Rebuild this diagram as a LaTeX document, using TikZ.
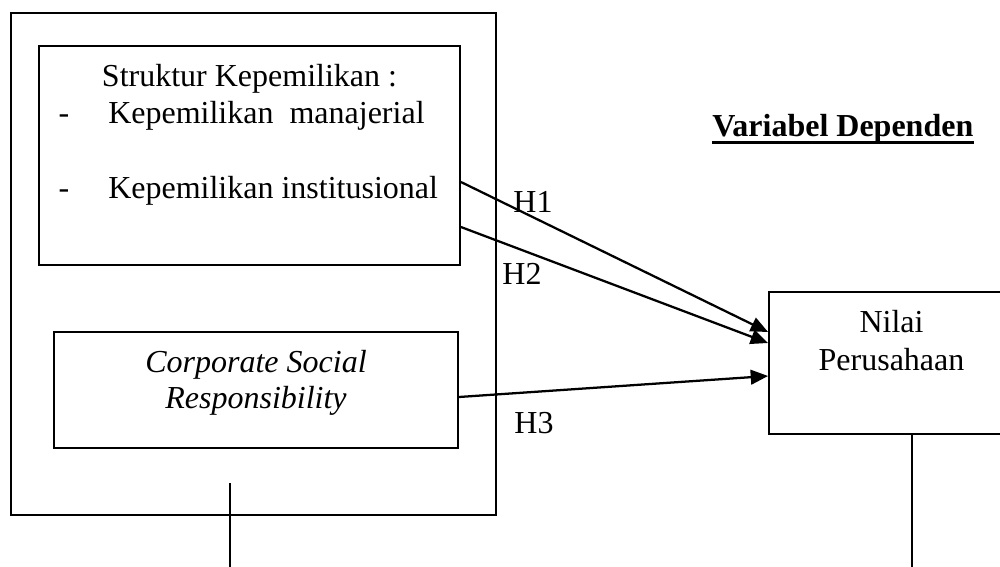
\documentclass[tikz,border=0pt]{standalone}
\usepackage{fontspec}
\setmainfont{Liberation Serif}
\usetikzlibrary{arrows.meta,calc}
\begin{document}
\begin{tikzpicture}[x=0.75pt,y=-0.75pt,
  box/.style={draw,line width=1.4pt,inner sep=0pt},
  conn/.style={line width=1.7pt,-{Triangle[length=13pt,width=11pt]}},
  lbl/.style={font=\fontsize{24}{28}\selectfont,inner sep=0pt,anchor=base},
  plainline/.style={line width=1.4pt}]
\useasboundingbox (0,0) rectangle (1000,567);

% boxes
\node[box,minimum width=363.75pt,minimum height=376.5pt] (outer) at (253.5,264) {};
\node[box,minimum width=315.75pt,minimum height=164.25pt] (inner1) at (249.5,155.5) {};
\node[box,minimum width=303pt,minimum height=87pt] (inner2) at (256,390) {};
\node[box,minimum width=188.25pt,minimum height=106.5pt] (nilai) at (894.5,363) {};

% texts in first box
\node[lbl] (t1) at (249.5,87) {Struktur Kepemilikan :};
\node[lbl] (d1) at (64,123) {-};
\node[lbl,anchor=base west] (t2) at (108,123) {Kepemilikan\ \ manajerial};
\node[lbl] (d2) at (64,198) {-};
\node[lbl,anchor=base west] (t3) at (108,198) {Kepemilikan institusional};

% texts in second box
\node[lbl] (c1) at (256,372) {\itshape Corporate Social};
\node[lbl] (c2) at (256,408) {\itshape Responsibility};

% dependent variable
\node[lbl,anchor=base west] (vd) at (712,137) {\bfseries Variabel Dependen};
\draw[line width=1.8pt] ($(vd.base west)+(0,5.5)$) -- ($(vd.base east)+(0,5.5)$);
\node[lbl] (n1) at (891.5,332) {Nilai};
\node[lbl] (n2) at (891.5,370) {Perusahaan};

% hypothesis labels
\node[lbl] (h1) at (533,212) {H1};
\node[lbl] (h2) at (522,284) {H2};
\node[lbl] (h3) at (534,433) {H3};

% arrows
\draw[conn] ($(inner1.east)+(0,26.5)$) -- ($(nilai.west)+(0,-31)$);
\draw[conn] ($(inner1.east)+(0,71.5)$) -- ($(nilai.west)+(0,-20)$);
\draw[conn] ($(inner2.east)+(0,7)$) -- ($(nilai.west)+(0,13)$);

% vertical lines
\coordinate (vl1) at (230,483);
\coordinate (vl1e) at (230,567);
\draw[plainline] (vl1) -- (vl1e);
\coordinate (vl2e) at (912,567);
\draw[plainline] (nilai.south -| vl2e) -- (vl2e);
\end{tikzpicture}
\end{document}
